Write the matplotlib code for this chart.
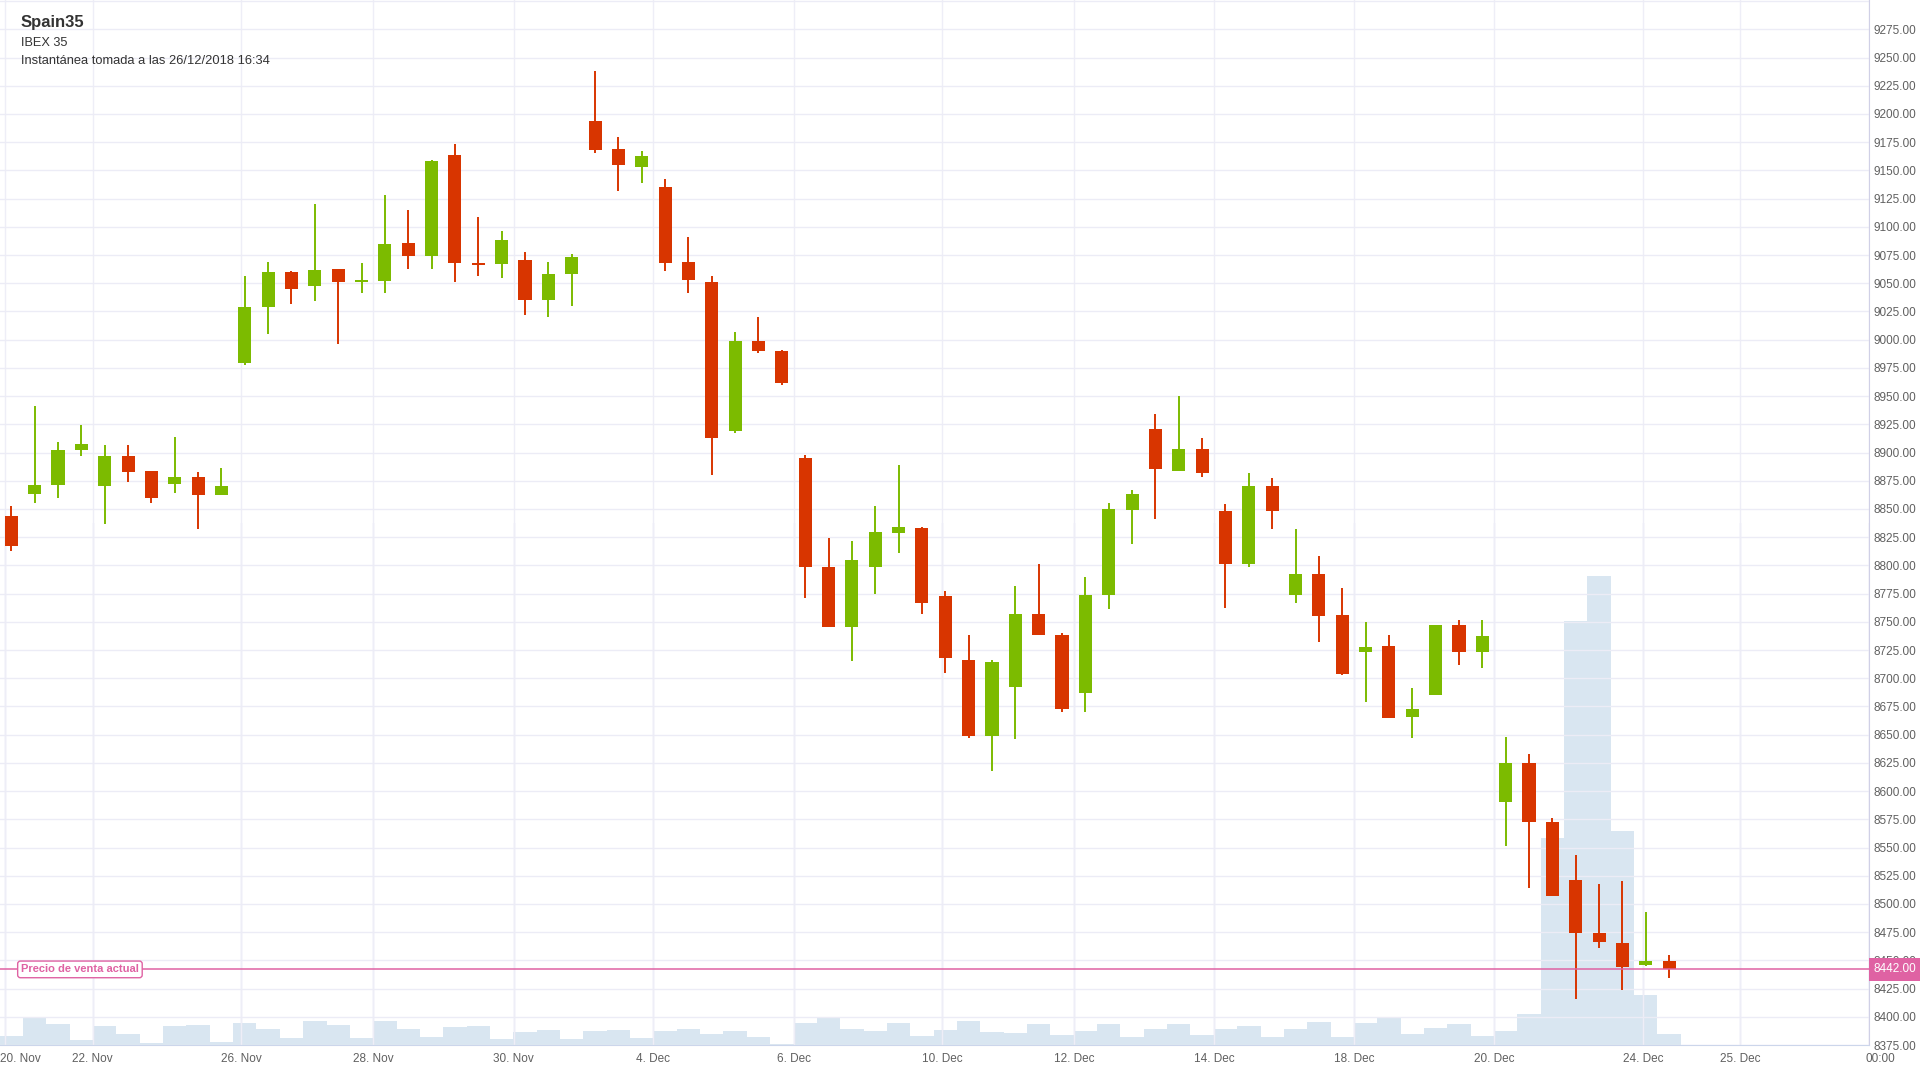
import matplotlib.pyplot as plt
from matplotlib.transforms import blended_transform_factory, ScaledTranslation

plt.rcParams['font.family'] = ['Liberation Sans', 'DejaVu Sans']

# Velas del IBEX 35 (una por periodo, eje ordinal)
apertura = [8844, 8863, 8871, 8902, 8870, 8897, 8884, 8872, 8878, 8862,
            8979, 9029, 9060, 9048, 9063, 9051, 9052, 9086, 9074, 9164,
            9068, 9067, 9071, 9035, 9058, 9194, 9169, 9153, 9135, 9069,
            9051, 8919, 8999, 8990, 8895, 8799, 8745, 8799, 8829, 8833,
            8773, 8716, 8649, 8692, 8757, 8738, 8687, 8774, 8849, 8921,
            8884, 8903, 8848, 8801, 8870, 8774, 8792, 8756, 8723, 8729,
            8666, 8685, 8747, 8723, 8590, 8625, 8573, 8521, 8474, 8465,
            8446, 8449]
cierre = [8817, 8871, 8902, 8908, 8897, 8883, 8860, 8878, 8862, 8870,
          9029, 9060, 9045, 9062, 9051, 9053, 9085, 9074, 9158, 9068,
          9066, 9088, 9035, 9058, 9073, 9168, 9155, 9163, 9068, 9053,
          8913, 8999, 8990, 8962, 8799, 8745, 8805, 8830, 8834, 8767,
          8718, 8649, 8714, 8757, 8738, 8673, 8774, 8850, 8863, 8885,
          8903, 8882, 8801, 8870, 8848, 8792, 8755, 8704, 8728, 8665,
          8673, 8747, 8723, 8737, 8625, 8573, 8507, 8474, 8466, 8444,
          8449, 8442]
maximo = [8853, 8941, 8909, 8924, 8907, 8907, 8884, 8914, 8883, 8886,
          9056, 9069, 9061, 9120, 9063, 9068, 9128, 9115, 9159, 9173,
          9109, 9096, 9078, 9069, 9076, 9238, 9180, 9167, 9142, 9091,
          9056, 9007, 9020, 8991, 8898, 8824, 8822, 8853, 8889, 8834,
          8777, 8738, 8716, 8782, 8801, 8740, 8790, 8855, 8867, 8934,
          8950, 8913, 8854, 8882, 8877, 8832, 8808, 8780, 8750, 8738,
          8691, 8747, 8752, 8752, 8648, 8633, 8576, 8543, 8518, 8520,
          8493, 8455]
minimo = [8813, 8855, 8860, 8897, 8837, 8874, 8855, 8864, 8832, 8862,
          8978, 9005, 9032, 9034, 8996, 9041, 9041, 9063, 9063, 9051,
          9056, 9055, 9022, 9020, 9030, 9165, 9132, 9139, 9061, 9041,
          8880, 8917, 8988, 8960, 8771, 8745, 8715, 8775, 8811, 8757,
          8705, 8647, 8618, 8646, 8738, 8670, 8670, 8761, 8819, 8841,
          8884, 8878, 8762, 8799, 8832, 8767, 8732, 8703, 8679, 8665,
          8647, 8685, 8712, 8709, 8551, 8514, 8507, 8416, 8461, 8424,
          8445, 8434]
volumen = [8.7, 28, 21, 5, 19, 11, 2, 19, 20, 3,
           22, 15.7, 7, 24, 20, 7, 24, 16, 7.7, 17.7,
           19, 5.7, 13, 14.7, 6, 13.7, 14.7, 7, 13.7, 15.7,
           11, 13.7, 7.7, 1, 21.7, 26.7, 15.7, 13.7, 21.7, 8.7,
           14.7, 23.7, 12.7, 12, 20.7, 10, 13.7, 20.7, 7.7, 15.7,
           20.7, 10, 15.7, 18.7, 7.7, 15.7, 22.7, 7.7, 21.7, 26.7,
           11, 16.7, 20.7, 8.7, 13.7, 31, 207, 424, 469, 214,
           50, 11]

precio_actual = 8442

etiquetas_x = ['20. Nov', '22. Nov', '26. Nov', '28. Nov', '30. Nov', '4. Dec', '6. Dec',
               '10. Dec', '12. Dec', '14. Dec', '18. Dec', '20. Dec', '24. Dec', '25. Dec', '00:00']
posiciones_x = [-0.26, 3.49, 9.85, 15.51, 21.51, 27.5, 33.5,
                39.86, 45.52, 51.52, 57.52, 63.51, 69.89, 74.05, 79.55]

verde = '#7cbb00'
rojo = '#d83500'
rosa = '#df62a3'
gris_grid = '#ececf6'
gris_texto = '#606060'

fig = plt.figure(figsize=(19.2, 10.8), dpi=100)
fig.patch.set_facecolor('white')

# panel de volumen (mitad inferior), detrás de las velas
ax_vol = fig.add_axes([0, 35 / 1080, 1869 / 1920, 522 / 1080], zorder=0)
ax = fig.add_axes([0, 35 / 1080, 1869 / 1920, 1045 / 1080], zorder=1)
ax.patch.set_alpha(0)

x = list(range(len(cierre)))
ax_vol.bar(x, volumen, width=1.0, color='#d9e6f1', edgecolor='none')
ax_vol.set_ylim(0, 522)
ax_vol.set_xlim(-0.484, 79.56)
ax_vol.set_xticks(posiciones_x)
ax_vol.set_xticklabels([])
ax_vol.set_yticks([])
ax_vol.tick_params(length=0)
ax_vol.grid(axis='x', color='#e4e4f0', lw=1)
for s in ax_vol.spines.values():
    s.set_visible(False)

# velas
for i in x:
    o, c, h, l = apertura[i], cierre[i], maximo[i], minimo[i]
    col = verde if c >= o else rojo
    ax.vlines(i, l, h, color=col, lw=1.4, zorder=3)
    alto = max(abs(c - o), 1.8)
    ax.bar(i, alto, bottom=min(o, c), width=0.56, color=col, edgecolor='none', zorder=4)

ax.set_xlim(-0.484, 79.56)
ax.set_ylim(8375, 9301)

yt = list(range(8375, 9301, 25))
ax.set_yticks(yt)
ax.set_yticklabels(['%.2f' % v if v < 9300 else '' for v in yt])
ax.yaxis.tick_right()
ax.tick_params(axis='y', length=0, pad=3, labelsize=8.5, labelcolor=gris_texto)

ax.set_xticks(posiciones_x)
ax.set_xticklabels(etiquetas_x)
ax.tick_params(axis='x', length=0, pad=6, labelsize=8.5, labelcolor=gris_texto)
lbls = ax.get_xticklabels()
lbls[0].set_ha('left')
lbls[0].set_transform(lbls[0].get_transform() + ScaledTranslation(-0.05, 0, fig.dpi_scale_trans))
lbls[-1].set_ha('left')
lbls[-1].set_transform(lbls[-1].get_transform() + ScaledTranslation(-0.03, 0, fig.dpi_scale_trans))

ax.grid(axis='y', color=gris_grid, lw=1, zorder=0)
ax.grid(axis='x', color='#eeeef7', lw=1, zorder=0)
ax.set_axisbelow(True)
for nombre, s in ax.spines.items():
    s.set_visible(nombre in ('right', 'bottom'))
ax.spines['right'].set_color('#d0d0e6')
ax.spines['bottom'].set_color('#ccd6eb')

# precio actual
ax.axhline(precio_actual, color=rosa, lw=1.1, zorder=5)
trans = blended_transform_factory(ax.transAxes, ax.transData)
ax.text(1.0 + 5 / 1869, precio_actual, '%.2f' % precio_actual, transform=trans,
        ha='left', va='center', color='white', fontsize=8.5, clip_on=False, zorder=6,
        bbox=dict(boxstyle='square,pad=0.45', fc=rosa, ec='none'))
ax.text(21 / 1869, precio_actual, 'Precio de venta actual', transform=trans,
        ha='left', va='center', color=rosa, fontsize=8, fontweight='bold', zorder=6,
        bbox=dict(boxstyle='round,pad=0.3,rounding_size=0.25', fc='white', ec=rosa, lw=1))

# títulos
fig.text(21 / 1920, 1 - 23 / 1080, 'Spain35', fontsize=12, fontweight='bold', color='#333333', va='center')
fig.text(21 / 1920, 1 - 43.5 / 1080, 'IBEX 35', fontsize=9.2, color='#333333', va='center')
fig.text(21 / 1920, 1 - 60.5 / 1080, 'Instantánea tomada a las 26/12/2018 16:34', fontsize=9.3,
         color='#333333', va='center')

fig.savefig('out.png', dpi=100, facecolor='white')
